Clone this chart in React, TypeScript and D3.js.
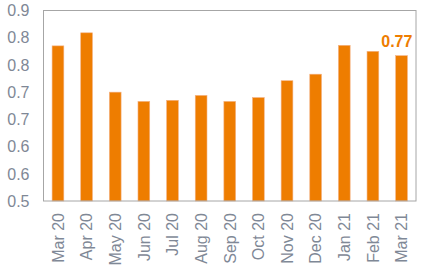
import React from "react";
import * as d3 from "d3";

const categories = ["Mar 20","Apr 20","May 20","Jun 20","Jul 20","Aug 20","Sep 20","Oct 20","Nov 20","Dec 20","Jan 21","Feb 21","Mar 21"];
const values = [0.785,0.809,0.700,0.683,0.685,0.694,0.683,0.690,0.721,0.733,0.786,0.775,0.767];
const yTicks = [0.5,0.55,0.6,0.65,0.7,0.75,0.8,0.85];
const lastLabel = "0.77";

export default function App() {
  const W = 423, H = 268;
  const m = { left: 43.5, right: 416, top: 10.5, bottom: 201 };
  const x = d3.scaleBand<string>().domain(categories).range([m.left, m.right]).paddingInner(0.59).paddingOuter(0.3);
  const y = d3.scaleLinear().domain([0.5, 0.85]).range([m.bottom, m.top]);
  const orange = "#EE7D00";
  const grey = "#7F8896";
  const last = categories.length - 1;
  const fs = 16;
  return (
    <svg width={W} height={H} style={{ position: "absolute", left: 0, top: 0 }} fontFamily="Liberation Sans, Arial, sans-serif">
      <rect x={0} y={0} width={W} height={H} fill="#fff" />
      {categories.map((c, i) => (
        <rect key={c} x={x(c)} y={y(values[i])} width={x.bandwidth()} height={m.bottom - y(values[i])} fill={orange} stroke="#F4B183" strokeWidth={0.6} />
      ))}
      <rect x={m.left} y={m.top} width={m.right - m.left} height={m.bottom - m.top} fill="none" stroke="#A6A6A6" strokeWidth={1} />
      {yTicks.map((t) => (
        <text key={t} x={29.5} y={y(t)} dy="0.36em" textAnchor="end" fontSize={fs} fill={grey}>{d3.format(".1f")(t + 1e-9)}</text>
      ))}
      {categories.map((c) => (
        <text key={c} transform={`translate(${x(c)! + x.bandwidth() / 2 + 5.8},${m.bottom + 12}) rotate(-90)`} textAnchor="end" fontSize={fs} fill={grey}>{c}</text>
      ))}
      <text x={x(categories[last])! + x.bandwidth() / 2 - 4.7} y={y(values[last]) - 8.8} textAnchor="middle" fontSize={fs} fontWeight="bold" fill={orange}>{lastLabel}</text>
    </svg>
  );
}
